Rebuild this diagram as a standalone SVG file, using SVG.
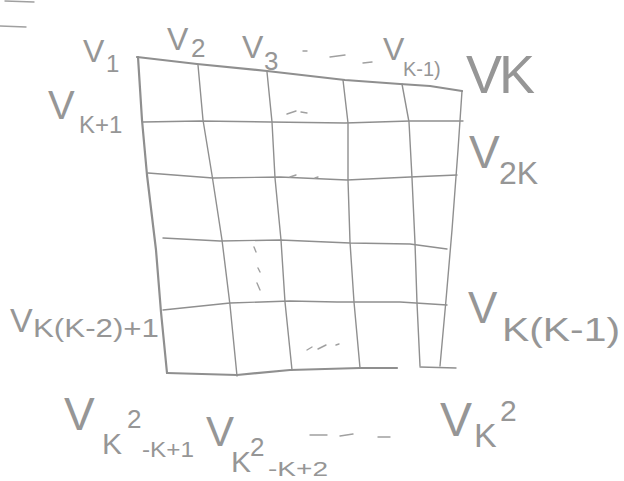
<svg xmlns="http://www.w3.org/2000/svg" width="624" height="481" viewBox="0 0 624 481">
<style>
.g{fill:none;stroke:#8f8f8f;stroke-linecap:round;stroke-linejoin:round}
.b{stroke-width:2.2}
.t{stroke-width:1.4}
.m{fill:none;stroke:#a0a0a0;stroke-width:1.4;stroke-linecap:round}
text{font-family:"Liberation Sans",Arial,sans-serif;fill:#969696;font-weight:normal}
</style>
<rect width="624" height="481" fill="#ffffff"/>
<g id="grid">
<path class="g b" d="M137,57 L197,64 L267,71 L345,80 L400,84 L430,86 L462,91"/>
<path class="g b" d="M138,57 L142,120 L147,175 L156,250 L161,312 L167,373"/>
<path class="g b" d="M167,373 L237,375 L290,370 L360,368 L397,368"/>
<path class="g t" d="M420,367 L456,368"/>
<path class="g t" d="M462,91 L458,150 L452,230 L446,300 L440,366"/>
<path class="g t" d="M143,122 L200,121 L270,122 L345,123 L410,121 L463,121"/>
<path class="g t" d="M148,173 L213,178 L280,177 L347,180 L410,177 L457,175"/>
<path class="g t" d="M163,238 L220,241 L280,240 L350,243 L410,244 L447,249"/>
<path class="g t" d="M163,310 L230,303 L290,301 L337,302 L400,302 L447,305"/>
<path class="g t" d="M198,65 L203,120 L212,175 L222,240 L230,305 L237,376"/>
<path class="g t" d="M267,72 L272,122 L275,178 L281,240 L285,302 L292,370"/>
<path class="g t" d="M343,80 L348,123 L348,180 L350,242 L354,302 L360,368"/>
<path class="g t" d="M402,84 L409,122 L412,178 L415,243 L417,303 L420,366"/>
<path class="m" d="M287,114 L296,111 M301,112 L307,113 M290,177 L296,175 M315,178 L318,177 M254,247 L256,252 M258,268 L260,272 M257,283 L260,290 M307,350 L312,347 M318,349 L326,345 M336,345 L339,344 M5,1 L34,2 M0,26 L26,27"/>
</g>
<g id="v1"><text x="83" y="62" font-size="32">V</text><text x="106" y="72" font-size="24">1</text></g>
<g id="v2"><text x="167" y="50" font-size="32">V</text><text x="191" y="57" font-size="26">2</text></g>
<g id="v3"><text x="242" y="58" font-size="32">V</text><text x="264" y="70" font-size="26">3</text></g>
<g id="vk1"><path class="m" d="M303,51 L307,51 M330,57 L345,55 M363,63 L372,62"/><text x="383" y="60" font-size="32">V</text><text x="403" y="76" font-size="20">K-1)</text></g>
<g id="vk"><text x="466" y="93" font-size="54" letter-spacing="-3">VK</text></g>
<g id="vk_1"><text x="48" y="119" font-size="40">V</text><text x="79" y="133" font-size="24">K+1</text></g>
<g id="v2k"><text x="469" y="168" font-size="46">V</text><text x="499" y="184" font-size="32">2K</text></g>
<g id="vkk2"><text x="10" y="332" font-size="34">V</text><text x="33" y="337" font-size="26" textLength="126" lengthAdjust="spacingAndGlyphs">K(K-2)+1</text></g>
<g id="vkk1"><text x="468" y="323" font-size="44">V</text><text x="502" y="341" font-size="34" textLength="118" lengthAdjust="spacingAndGlyphs">K(K-1)</text></g>
<g id="vk2k1"><text x="64" y="430" font-size="46">V</text><text x="102" y="454" font-size="30">K</text><text x="127" y="428" font-size="26">2</text><text x="142" y="457" font-size="22" textLength="52" lengthAdjust="spacingAndGlyphs">-K+1</text></g>
<g id="vk2k2"><text x="206" y="446" font-size="42">V</text><text x="231" y="472" font-size="30">K</text><text x="250" y="456" font-size="26">2</text><text x="268" y="476" font-size="20" textLength="60" lengthAdjust="spacingAndGlyphs">-K+2</text><path class="m" d="M310,435 L327,435 M340,436 L353,434 M378,437 L390,437"/></g>
<g id="vk2"><text x="440" y="436" font-size="48">V</text><text x="474" y="447" font-size="34">K</text><text x="500" y="421" font-size="30">2</text></g>
</svg>
